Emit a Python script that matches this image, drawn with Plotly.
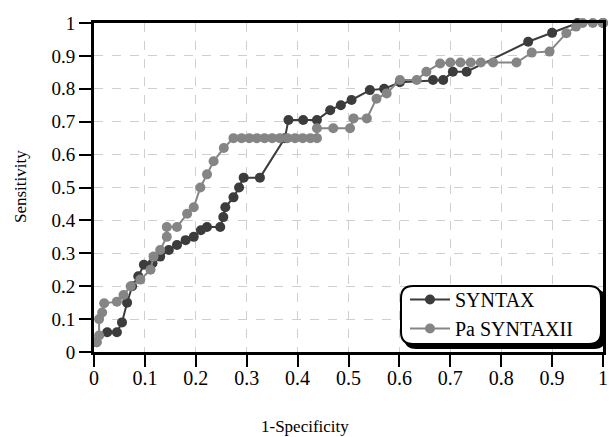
import plotly.graph_objects as go

# SYNTAX (dark)
syntax_x = [0.005, 0.026, 0.045, 0.055, 0.065, 0.075, 0.087, 0.098, 0.115, 0.13, 0.147, 0.163,
            0.18, 0.196, 0.21, 0.222, 0.248, 0.254, 0.258, 0.274, 0.285, 0.294, 0.326, 0.375,
            0.382, 0.411, 0.438, 0.464, 0.485, 0.506, 0.542, 0.57, 0.601, 0.666, 0.686, 0.705,
            0.732, 0.853, 0.9, 0.95, 1.0]
syntax_y = [0.03, 0.06, 0.06, 0.09, 0.15, 0.2, 0.23, 0.265, 0.27, 0.29, 0.31, 0.325,
            0.34, 0.35, 0.37, 0.38, 0.38, 0.41, 0.44, 0.47, 0.5, 0.53, 0.53, 0.65,
            0.705, 0.705, 0.705, 0.735, 0.75, 0.766, 0.796, 0.8, 0.82, 0.827, 0.827, 0.852,
            0.852, 0.943, 0.97, 1.0, 1.0]

# Pa SYNTAXII (light)
syntax2_x = [0.005, 0.01, 0.01, 0.016, 0.02, 0.045, 0.058, 0.072, 0.091, 0.111, 0.117, 0.13,
             0.143, 0.143, 0.163, 0.183, 0.196, 0.209, 0.222, 0.235, 0.255, 0.274, 0.29, 0.305,
             0.32, 0.335, 0.35, 0.365, 0.38, 0.395, 0.41, 0.425, 0.438, 0.438, 0.47, 0.503,
             0.51, 0.536, 0.555, 0.575, 0.601, 0.634, 0.653, 0.68, 0.7, 0.72, 0.74, 0.76,
             0.784, 0.83, 0.86, 0.895, 0.928, 0.947, 0.96, 0.98, 1.0]
syntax2_y = [0.03, 0.05, 0.1, 0.12, 0.148, 0.153, 0.173, 0.2, 0.22, 0.25, 0.29, 0.31,
             0.35, 0.38, 0.38, 0.42, 0.44, 0.5, 0.54, 0.58, 0.62, 0.65, 0.65, 0.65,
             0.65, 0.65, 0.65, 0.65, 0.65, 0.65, 0.65, 0.65, 0.65, 0.68, 0.68, 0.68,
             0.71, 0.71, 0.77, 0.786, 0.827, 0.827, 0.852, 0.877, 0.88, 0.88, 0.88, 0.88,
             0.88, 0.88, 0.91, 0.913, 0.969, 0.989, 1.0, 1.0, 1.0]

tick_vals = [0, 0.1, 0.2, 0.3, 0.4, 0.5, 0.6, 0.7, 0.8, 0.9, 1]
tick_text = ["0", "0.1", "0.2", "0.3", "0.4", "0.5", "0.6", "0.7", "0.8", "0.9", "1"]

FONT = "Liberation Serif"

fig = go.Figure()
fig.add_trace(go.Scatter(x=syntax_x, y=syntax_y, mode="lines+markers", name="SYNTAX",
                         line=dict(color="#3c3c3c", width=2),
                         marker=dict(color="#3c3c3c", size=10), cliponaxis=False))
fig.add_trace(go.Scatter(x=syntax2_x, y=syntax2_y, mode="lines+markers", name="Pa SYNTAXII",
                         line=dict(color="#858585", width=2),
                         marker=dict(color="#858585", size=10), cliponaxis=False))

# body margin is removed by the post script below
OFF = 0
W, H = 609 - OFF, 437 - OFF
# target page pixels: plot x 94..603, y 23..352
L, T = 94 - OFF, 23 - OFF
R = W - (603 - OFF)
B = H - (352 - OFF)
PW, PH = W - L - R, H - T - B

def px(x):
    # page pixel -> paper
    return (x - OFF - L) / PW

def py(y):
    return (T + PH - (y - OFF)) / PH

def rrect(x0, y0, x1, y1, r):
    rx = r / PW
    ry = r / PH
    X0, X1 = px(x0), px(x1)
    Y0, Y1 = py(y1), py(y0)
    return (f"M {X0+rx},{Y0} L {X1-rx},{Y0} Q {X1},{Y0} {X1},{Y0+ry} "
            f"L {X1},{Y1-ry} Q {X1},{Y1} {X1-rx},{Y1} L {X0+rx},{Y1} "
            f"Q {X0},{Y1} {X0},{Y1-ry} L {X0},{Y0+ry} Q {X0},{Y0} {X0+rx},{Y0} Z")

fig.add_shape(type="path", xref="paper", yref="paper",
              path=rrect(404, 289, 606, 349, 12), fillcolor="black", line=dict(width=0), layer="above")
fig.add_shape(type="path", xref="paper", yref="paper",
              path=rrect(401, 286, 601, 344, 12), fillcolor="white",
              line=dict(color="black", width=2), layer="above")

fig.add_annotation(text="1-Specificity", xref="paper", yref="paper",
                   x=px(305), y=py(426), xanchor="center", yanchor="middle",
                   showarrow=False, font=dict(family=FONT, size=17, color="black"))
fig.add_annotation(text="Sensitivity", xref="paper", yref="paper",
                   x=px(20), y=py(187), xanchor="center", yanchor="middle", textangle=-90,
                   showarrow=False, font=dict(family=FONT, size=17, color="black"))

fig.update_layout(
    width=W, height=H,
    margin=dict(l=L, r=R, t=T, b=B, autoexpand=False),
    paper_bgcolor="white", plot_bgcolor="white",
    font=dict(family=FONT, color="black"),
    showlegend=True,
    hovermode=False,
    legend=dict(x=px(405), y=py(280), xanchor="left", yanchor="top",
                bgcolor="rgba(0,0,0,0)", borderwidth=0,
                font=dict(family=FONT, size=20, color="black"),
                tracegroupgap=0, itemwidth=40),
)
fig.update_xaxes(range=[0, 1], tickvals=tick_vals, ticktext=tick_text, automargin=False,
                 showline=True, linecolor="black", linewidth=3, mirror=True,
                 ticks="outside", ticklen=12, tickwidth=2, tickcolor="black",
                 ticklabelstandoff=-6, ticklabeloverflow="allow",
                 showgrid=True, gridcolor="#cfcfcf", griddash="dash", gridwidth=1,
                 zeroline=False, tickfont=dict(family=FONT, size=20))
fig.update_yaxes(range=[0, 1], tickvals=tick_vals, ticktext=tick_text, automargin=False,
                 showline=True, linecolor="black", linewidth=3, mirror=True,
                 ticks="outside", ticklen=12, tickwidth=2, tickcolor="black",
                 ticklabeloverflow="allow",
                 showgrid=True, gridcolor="#cfcfcf", griddash="dash", gridwidth=1,
                 zeroline=False, tickfont=dict(family=FONT, size=19))

fig.write_html("out.html", config={"displayModeBar": False},
               post_script="document.body.style.margin='0';document.body.style.overflow='hidden';")
